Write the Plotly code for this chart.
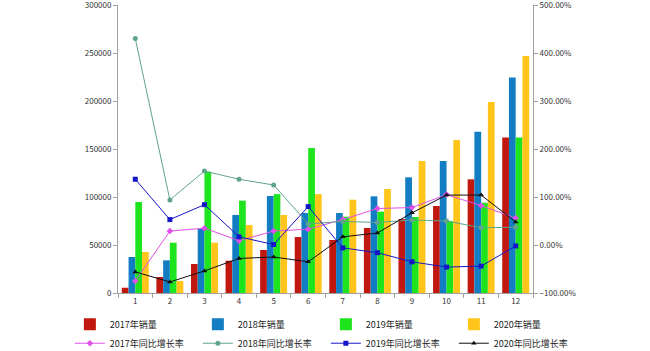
import plotly.graph_objects as go

months = [str(i) for i in range(1, 13)]

sales_2017 = [5500, 16700, 30200, 33700, 44800, 58300, 55200, 67700, 77000, 90600, 118400, 162000]
sales_2018 = [37500, 34000, 66700, 81300, 101000, 83300, 83300, 100700, 120500, 137500, 168000, 224600]
sales_2019 = [94800, 52400, 126400, 96200, 103000, 151000, 79500, 84700, 79200, 75000, 94000, 162000]
sales_2020 = [42700, 12500, 52400, 70800, 81300, 103000, 97200, 108300, 137500, 159400, 199000, 247000]

yoy_2017 = [-75, 29, 35, 9, 29, 33, 53, 76, 78, 105, 82, 56]
yoy_2018 = [430, 94, 154, 137, 125, 44, 49, 47, 52, 50, 36, 37]
yoy_2019 = [137, 53, 84, 17, 1, 80, -6, -16, -35, -46, -44, -2]
yoy_2020 = [-56, -77, -54, -28, -25, -35, 17, 25, 67, 104, 104, 48]

bar_names = ["2017年销量", "2018年销量", "2019年销量", "2020年销量"]
bar_colors = ["#C0180F", "#137DC3", "#1EE41E", "#FFC51A"]
line_names = ["2017年同比增长率", "2018年同比增长率", "2019年同比增长率", "2020年同比增长率"]
line_colors = ["#E050E8", "#5FA58C", "#1515C8", "#101010"]
line_symbols = ["diamond", "circle", "square", "triangle-up"]

fig = go.Figure()
for name, vals, col in zip(bar_names, [sales_2017, sales_2018, sales_2019, sales_2020], bar_colors):
    fig.add_trace(go.Bar(x=months, y=vals, name=name, marker=dict(color=col, line=dict(width=0)),
                         yaxis="y"))
for name, vals, col, sym in zip(line_names, [yoy_2017, yoy_2018, yoy_2019, yoy_2020], line_colors, line_symbols):
    fig.add_trace(go.Scatter(x=months, y=[v / 100 for v in vals], name=name, mode="lines+markers",
                             line=dict(color=col, width=1), marker=dict(symbol=sym, size=5, color=col),
                             yaxis="y2"))

tickfont = dict(family="SimSun, Noto Sans CJK SC, sans-serif", size=8, color="#333333")
fig.update_layout(
    width=650, height=351,
    margin=dict(l=118, r=117, t=5, b=58, autoexpand=False),
    paper_bgcolor="white", plot_bgcolor="white",
    barmode="group", bargap=0.22, bargroupgap=0,
    font=dict(family="Noto Sans CJK SC, sans-serif", size=9, color="#222222"),
    xaxis=dict(type="category", tickson="boundaries", ticks="outside", ticklen=4, tickcolor="#A0A0A0",
               showline=True, linecolor="#A0A0A0", linewidth=1, showgrid=False, tickfont=tickfont,
               range=[-0.5, 11.5]),
    yaxis=dict(range=[0, 300000], dtick=50000, tickformat="d", ticks="outside", ticklen=4,
               tickcolor="#A0A0A0", showline=True, linecolor="#A0A0A0", linewidth=1, showgrid=False,
               zeroline=False, tickfont=tickfont, ticklabeloverflow="allow"),
    yaxis2=dict(range=[-1, 5], dtick=1, tickformat=".2%", overlaying="y", side="right", ticks="outside",
                ticklen=4, tickcolor="#A0A0A0", showline=True, linecolor="#A0A0A0", linewidth=1,
                showgrid=False, zeroline=False, tickfont=tickfont, ticklabeloverflow="allow"),
    legend=dict(orientation="h", x=-0.116, xanchor="left", y=-0.058, yanchor="top",
                entrywidth=83, entrywidthmode="pixels", traceorder="normal",
                font=dict(family="Noto Sans CJK SC, sans-serif", size=9, color="#222222"),
                itemwidth=30, tracegroupgap=0),
    showlegend=True,
)

fig.write_html("out.html")
